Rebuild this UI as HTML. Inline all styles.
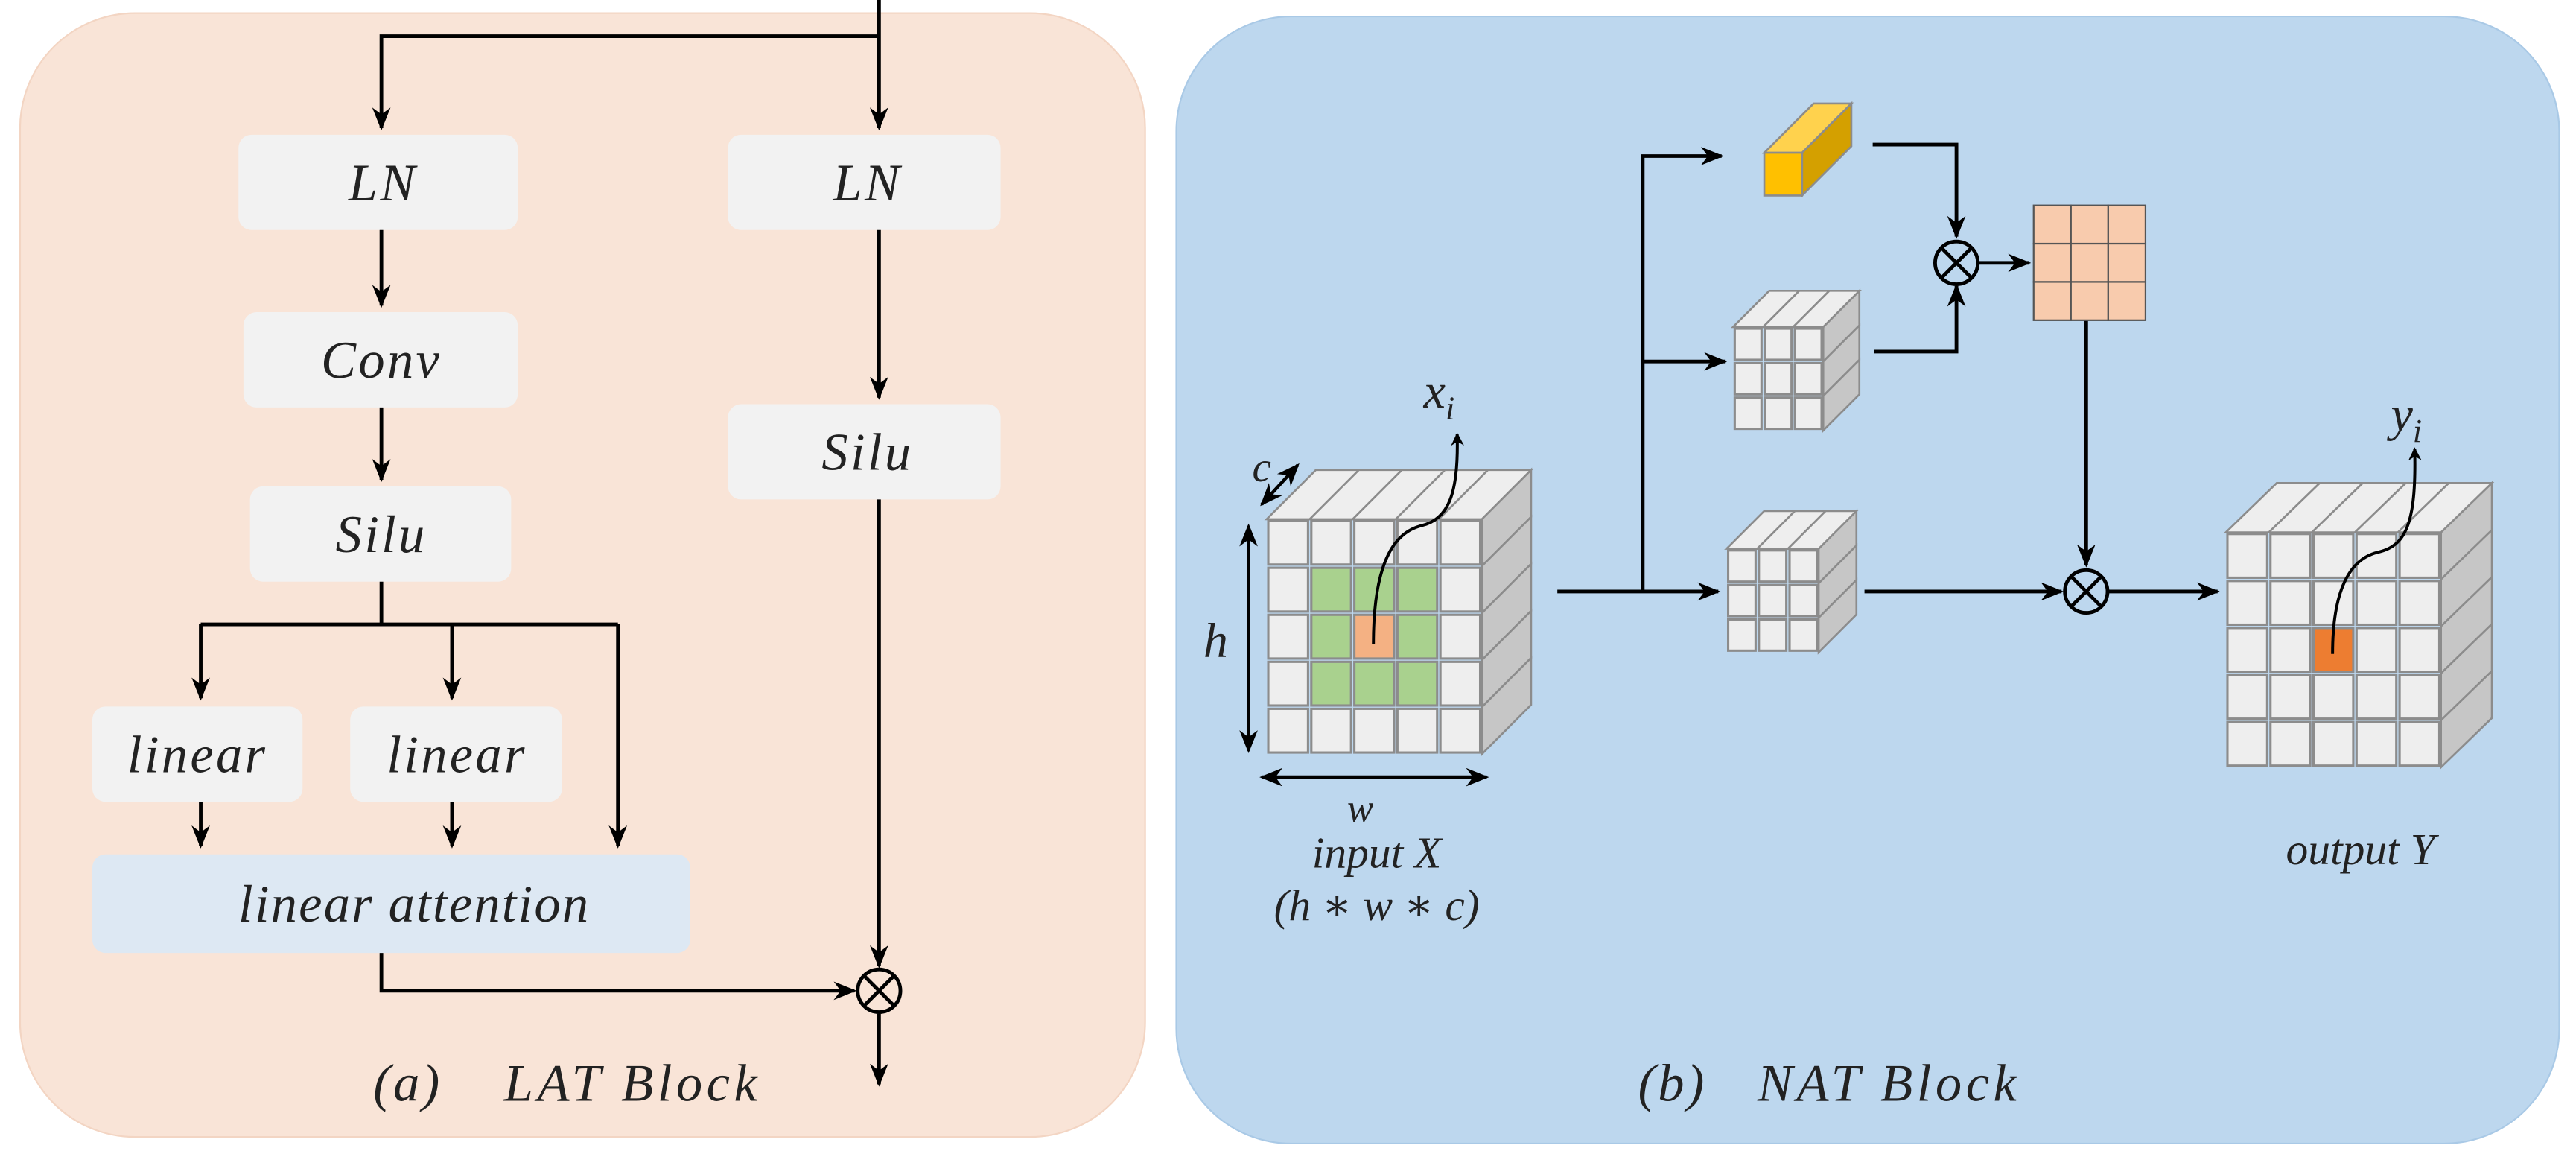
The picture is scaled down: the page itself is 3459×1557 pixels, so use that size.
<!DOCTYPE html>
<html><head><meta charset="utf-8"><style>
html,body{margin:0;padding:0;background:#fff;}
svg{display:block;}
text{font-family:"Liberation Serif","DejaVu Serif",serif;font-style:italic;fill:#222;}
</style></head><body>
<svg id="s" width="3459" height="1557" viewBox="0 0 1568 706" xmlns="http://www.w3.org/2000/svg">
<defs>
<marker id="a" viewBox="0 0 10 10" refX="9" refY="5" markerWidth="8" markerHeight="8" orient="auto-start-reverse" markerUnits="userSpaceOnUse">
<path d="M0,0 L10,5 L0,10 L3,5 Z" fill="#000"/></marker>
<marker id="b" viewBox="0 0 10 10" refX="9" refY="5" markerWidth="14" markerHeight="14" orient="auto-start-reverse" markerUnits="userSpaceOnUse">
<path d="M0,1 L10,5 L0,9 L3,5 Z" fill="#000"/></marker>
</defs>
<rect x="12" y="8" width="685" height="684" rx="70" fill="#f9e4d7" stroke="#f3d5c3" stroke-width="1"/>
<rect x="716" y="10" width="842" height="686" rx="70" fill="#bdd7ee" stroke="#a9c9e6" stroke-width="1"/>

<g fill="#f2f2f2">
<rect x="145" y="82" width="170" height="58" rx="8"/>
<rect x="443" y="82" width="166" height="58" rx="8"/>
<rect x="148" y="190" width="167" height="58" rx="8"/>
<rect x="152" y="296" width="159" height="58" rx="8"/>
<rect x="443" y="246" width="166" height="58" rx="8"/>
<rect x="56" y="430" width="128" height="58" rx="8"/>
<rect x="213" y="430" width="129" height="58" rx="8"/>
</g>
<rect x="56" y="520" width="364" height="60" rx="8" fill="#dde8f3"/>
<g font-size="32" text-anchor="middle" letter-spacing="1.5">
<text x="233" y="122">LN</text><text x="528" y="122">LN</text>
<text x="232" y="230">Conv</text><text x="232" y="336">Silu</text>
<text x="528" y="286">Silu</text>
<text x="120" y="470">linear</text><text x="278" y="470">linear</text>
<text x="252" y="561" letter-spacing="1">linear attention</text>
<text x="248" y="670">(a)</text>
<text x="385" y="670" letter-spacing="2.5">LAT Block</text>
<text x="1018" y="670">(b)</text>
<text x="1150" y="670" letter-spacing="2.5">NAT Block</text>
</g>
<g stroke="#000" stroke-width="2.2" fill="none">
<path d="M535,0 V78" marker-end="url(#b)"/>
<path d="M535,22 H232 V78" marker-end="url(#b)"/>
<path d="M232,140 V186" marker-end="url(#b)"/>
<path d="M232,248 V292" marker-end="url(#b)"/>
<path d="M232,354 V380"/>
<path d="M122,380 H376"/>
<path d="M122,380 V425" marker-end="url(#b)"/>
<path d="M275,380 V425" marker-end="url(#b)"/>
<path d="M376,380 V515" marker-end="url(#b)"/>
<path d="M122,488 V515" marker-end="url(#b)"/>
<path d="M275,488 V515" marker-end="url(#b)"/>
<path d="M535,140 V242" marker-end="url(#b)"/>
<path d="M535,304 V588" marker-end="url(#b)"/>
<path d="M232,580 V603 H520" marker-end="url(#b)"/>
<path d="M535,617 V660" marker-end="url(#b)"/>
<circle cx="535" cy="603" r="13"/>
<path d="M526,594 L544,612 M544,594 L526,612"/>
<path d="M948,360 H1046" marker-end="url(#b)"/>
<path d="M1000,360 V95 H1048" marker-end="url(#b)"/>
<path d="M1000,220 H1050" marker-end="url(#b)"/>
<path d="M1140,88 H1191 V144" marker-end="url(#b)"/>
<path d="M1141,214 H1191 V174" marker-end="url(#b)"/>
<circle cx="1191" cy="160" r="13"/>
<path d="M1182,151 L1200,169 M1200,151 L1182,169"/>
<path d="M1204,160 H1235" marker-end="url(#b)"/>
<path d="M1270,195 V344" marker-end="url(#b)"/>
<circle cx="1270" cy="360" r="13"/>
<path d="M1261,351 L1279,369 M1279,351 L1261,369"/>
<path d="M1135,360 H1255" marker-end="url(#b)"/>
<path d="M1283,360 H1350" marker-end="url(#b)"/>
<path d="M760,320 V457" marker-start="url(#b)" marker-end="url(#b)"/>
<path d="M768,307 L790,283" marker-start="url(#b)" marker-end="url(#b)" stroke-width="2"/>
<path d="M768,473 H905" marker-start="url(#b)" marker-end="url(#b)"/>
</g>
<g id="cubes"></g>
<g stroke="#000" stroke-width="1.8" fill="none">
<path d="M836,392 C836,350 845,325 865,320 C882,316 888,300 887,264" marker-end="url(#a)"/>
<path d="M1420,398 C1420,360 1430,340 1448,336 C1466,332 1471,315 1470,273" marker-end="url(#a)"/>
</g>
<g font-size="30" text-anchor="middle">
<text x="740" y="400">h</text>
<text x="768" y="293" font-size="26">c</text>
<text x="828" y="500" font-size="24">w</text>
<text x="876" y="248">x<tspan font-size="20" dy="7">i</tspan></text>
<text x="838" y="528" font-size="27">input X</text>
<text x="838" y="560" font-size="27">(h ∗ w ∗ c)</text>
<text x="1465" y="262">y<tspan font-size="20" dy="7">i</tspan></text>
<text x="1437" y="526" font-size="27">output Y</text>
</g>
</svg>
<script>
(function(){
var g=document.getElementById('cubes'),ns='http://www.w3.org/2000/svg';
function el(t,a){var e=document.createElementNS(ns,t);for(var k in a)e.setAttribute(k,a[k]);g.appendChild(e);return e;}
function poly(pts,f){el('polygon',{points:pts.map(function(p){return p.join(',')}).join(' '),fill:f,stroke:'#8c8c8c','stroke-width':1.2});}
function cube(x,y,cols,rows,cw,ch,dx,dy,colorFn){
 var W=cols*cw,H=rows*ch;
 for(var r=0;r<rows;r++){poly([[x+W,y+r*ch],[x+W+dx,y+r*ch+dy],[x+W+dx,y+(r+1)*ch+dy],[x+W,y+(r+1)*ch]],'#c6c6c6');}
 for(var c=0;c<cols;c++){poly([[x+c*cw,y],[x+c*cw+dx,y+dy],[x+(c+1)*cw+dx,y+dy],[x+(c+1)*cw,y]],'#eeeeee');}
 for(var r=0;r<rows;r++)for(var c=0;c<cols;c++){
  el('rect',{x:x+c*cw+1,y:y+r*ch+1,width:cw-2,height:ch-2,fill:colorFn(r,c),stroke:'#8c8c8c','stroke-width':1.4});}
}
cube(771,316,5,5,26.2,28.6,30,-30,function(r,c){if(r==2&&c==2)return '#f4b183';if(r>=1&&r<=3&&c>=1&&c<=3)return '#a9d18e';return '#eeeeee';});
cube(1355,324,5,5,26.2,28.6,31,-30,function(r,c){return (r==2&&c==2)?'#ed7d31':'#eeeeee';});
cube(1055,199,3,3,18.3,21,22,-22,function(){return '#eeeeee';});
cube(1051,334,3,3,18.7,21,23,-23,function(){return '#eeeeee';});
poly([[1074,93],[1104,63],[1127,63],[1097,93]],'#ffd24d');
poly([[1097,93],[1127,63],[1127,89],[1097,119]],'#d4a000');
poly([[1074,93],[1097,93],[1097,119],[1074,119]],'#ffc000');
for(var r=0;r<3;r++)for(var c=0;c<3;c++)el('rect',{x:1238+c*22.7,y:125+r*23.3,width:22.7,height:23.3,fill:'#f8cbad',stroke:'#555','stroke-width':1});
})();
</script>
</body></html>
